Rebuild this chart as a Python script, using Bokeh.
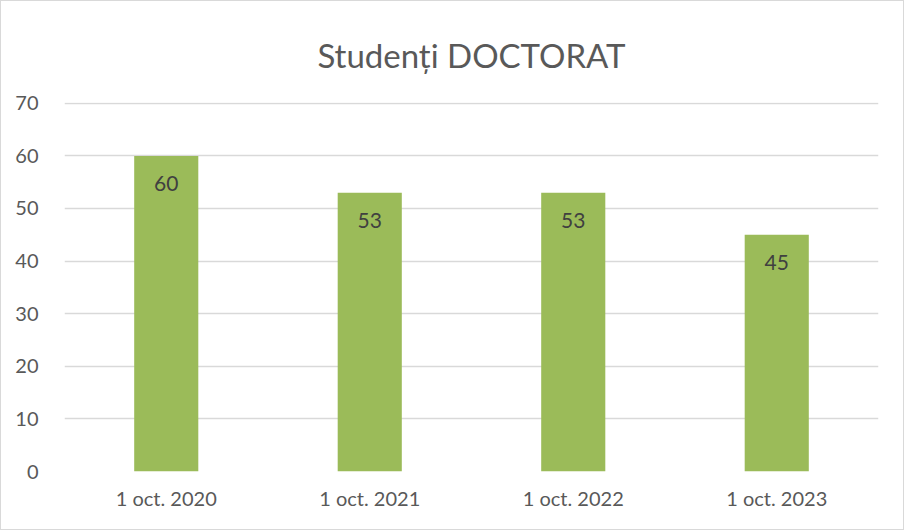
from bokeh.plotting import figure
from bokeh.models import ColumnDataSource, FixedTicker, Range1d
from bokeh.core.properties import value
from bokeh.embed import file_html
from bokeh.resources import INLINE

categories = ["1 oct. 2020", "1 oct. 2021", "1 oct. 2022", "1 oct. 2023"]
students = [60, 53, 53, 45]
y_ticks = [0, 10, 20, 30, 40, 50, 60, 70]
title_text = "Studenți DOCTORAT"

FONT = "Lato"
src = ColumnDataSource(dict(cat=categories, val=students, lbl=[str(v) for v in students]))

p = figure(x_range=categories, y_range=Range1d(0, 70.15), width=904, height=530,
           output_backend="svg", toolbar_location=None, title=title_text,
           min_border_left=63, min_border_right=27, min_border_top=101, min_border_bottom=60,
           styles={"border": "1px solid #D9D9D9", "box-sizing": "border-box"})
p.outline_line_color = None
p.vbar(x="cat", top="val", width=0.315, source=src, fill_color="#9BBB59", line_color=None)
p.text(x="cat", y="val", text="lbl", source=src, y_offset=28, text_align="center",
       text_baseline="middle", text_font=value(FONT), text_font_size="21px", text_color="#404040")

p.title.align = "center"
p.title.text_font = FONT
p.title.text_font_style = "normal"
p.title.text_font_size = "33px"
p.title.text_color = "#595959"
p.title.standoff = 56

p.xgrid.grid_line_color = None
p.ygrid.grid_line_color = "#D9D9D9"
p.ygrid.grid_line_width = 1.5
p.yaxis.ticker = FixedTicker(ticks=y_ticks)
for ax in (p.xaxis, p.yaxis):
    ax.axis_line_color = None
    ax.major_tick_line_color = None
    ax.minor_tick_line_color = None
    ax.major_label_text_font = FONT
    ax.major_label_text_font_size = "20px"
    ax.major_label_text_color = "#595959"
p.yaxis.major_label_standoff = 20
p.xaxis.major_label_standoff = 8
p.x_range.range_padding = 0

open("out.html", "w").write(file_html(p, INLINE))
